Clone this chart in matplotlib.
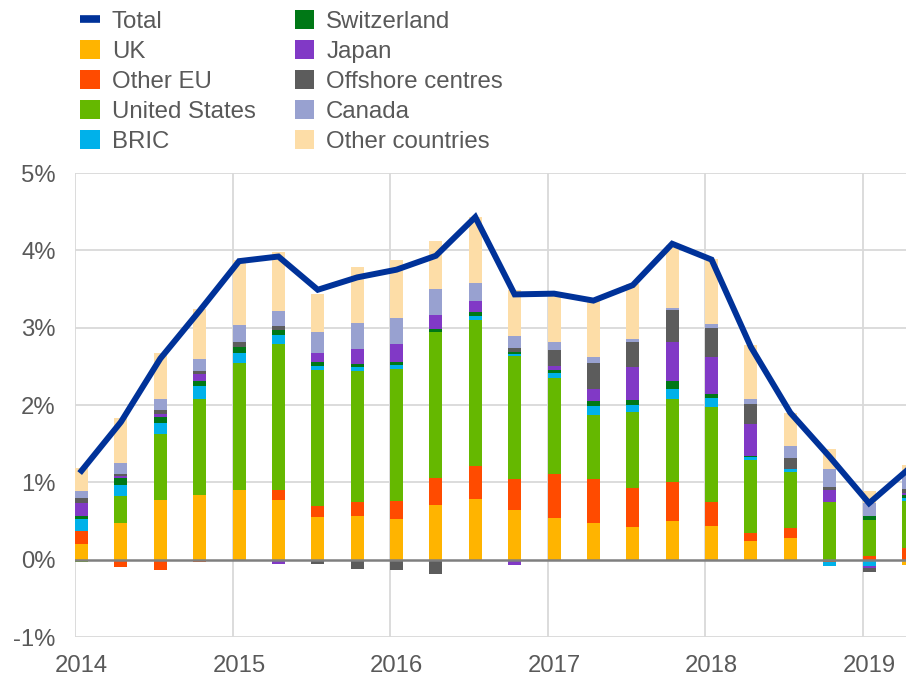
import matplotlib
matplotlib.use("Agg")
import matplotlib.pyplot as plt
import numpy as np
from matplotlib.patches import Patch
from matplotlib.lines import Line2D

plt.rcParams['font.family'] = ['Liberation Sans', 'DejaVu Sans']

# quarters 2014Q1 .. 2019Q2
quarters = [2014 + 0.25 * i for i in range(22)]
year_ticks = [2014, 2015, 2016, 2017, 2018, 2019]
year_labels = ["2014", "2015", "2016", "2017", "2018", "2019"]
y_ticks = [-1, 0, 1, 2, 3, 4, 5]
y_labels = ["-1%", "0%", "1%", "2%", "3%", "4%", "5%"]

uk = [0.20, 0.48, 0.77, 0.835, 0.90, 0.775, 0.55, 0.56, 0.525, 0.705, 0.78, 0.64,
      0.535, 0.48, 0.425, 0.50, 0.44, 0.245, 0.28, -0.02, 0.0, -0.07]
other_eu = [0.17, -0.09, -0.13, -0.03, -0.02, 0.13, 0.14, 0.185, 0.23, 0.35, 0.43, 0.40,
            0.57, 0.565, 0.50, 0.505, 0.31, 0.095, 0.13, -0.01, 0.045, 0.15]
us = [-0.03, 0.34, 0.86, 1.24, 1.645, 1.885, 1.76, 1.69, 1.705, 1.89, 1.885, 1.60,
      1.25, 0.825, 0.98, 1.07, 1.23, 0.95, 0.72, 0.75, 0.465, 0.61]
bric = [0.15, 0.15, 0.14, 0.17, 0.125, 0.115, 0.05, 0.05, 0.06, -0.01, 0.055, 0.02,
        0.065, 0.115, 0.10, 0.13, 0.115, 0.035, 0.045, -0.05, -0.08, 0.04]
switzerland = [0.05, 0.08, 0.07, 0.07, 0.08, 0.065, 0.05, 0.045, 0.035, 0.035, 0.05, 0.025,
               0.03, 0.065, 0.065, 0.10, 0.05, 0.02, 0.0, 0.0, 0.05, 0.035]
japan = [0.16, 0.035, 0.05, 0.08, 0.0, -0.06, 0.12, 0.20, 0.23, 0.19, 0.145, -0.07,
         0.055, 0.155, 0.425, 0.515, 0.47, 0.415, 0.0, 0.155, -0.03, 0.025]
offshore = [0.07, 0.02, 0.04, 0.04, 0.07, 0.05, -0.06, -0.12, -0.13, -0.18, 0.0, 0.055,
            0.205, 0.335, 0.315, 0.41, 0.385, 0.255, 0.14, 0.04, -0.05, 0.05]
canada = [0.09, 0.15, 0.15, 0.155, 0.215, 0.19, 0.27, 0.33, 0.335, 0.33, 0.235, 0.15,
          0.11, 0.075, 0.045, 0.03, 0.05, 0.06, 0.16, 0.23, 0.17, 0.23]
other_countries = [0.29, 0.58, 0.59, 0.65, 0.84, 0.77, 0.49, 0.72, 0.76, 0.615, 0.845, 0.60,
                   0.605, 0.735, 0.71, 0.815, 0.835, 0.70, 0.425, 0.25, 0.155, 0.09]
total = [1.15, 1.78, 2.6, 3.22, 3.86, 3.92, 3.49, 3.65, 3.75, 3.93, 4.43, 3.43,
         3.44, 3.35, 3.55, 4.085, 3.88, 2.75, 1.90, 1.33, 0.73, 1.17]

series = [
    ("UK", uk, "#FFB400"),
    ("Other EU", other_eu, "#FF4B00"),
    ("United States", us, "#65B800"),
    ("BRIC", bric, "#00B1EA"),
    ("Switzerland", switzerland, "#007816"),
    ("Japan", japan, "#8139C6"),
    ("Offshore centres", offshore, "#5C5C5C"),
    ("Canada", canada, "#98A1D0"),
    ("Other countries", other_countries, "#FDDDA7"),
]
total_color = "#003299"
text_color = "#595959"
grid_color = "#D9D9D9"

W, H = 906, 676
fig = plt.figure(figsize=(W / 100, H / 100), dpi=100)
ax = fig.add_axes([75 / W, (H - 637) / H, (W - 75) / W, (637 - 173) / H])

bar_w = 0.083
x = np.array(quarters)
pos_base = np.zeros(len(x))
neg_base = np.zeros(len(x))
for name, vals, col in series:
    v = np.array(vals, dtype=float)
    pos = np.where(v > 0, v, 0)
    neg = np.where(v < 0, v, 0)
    ax.bar(x, pos, width=bar_w, bottom=pos_base, align='edge', color=col,
           linewidth=0, zorder=3)
    ax.bar(x, neg, width=bar_w, bottom=neg_base, align='edge', color=col,
           linewidth=0, zorder=3)
    pos_base += pos
    neg_base += neg

ax.plot(x + bar_w / 2, total, color=total_color, linewidth=4.3, zorder=5,
        solid_joinstyle='miter', clip_on=True)

ax.set_xlim(2014, 2014 + (W - 75) / 157.5)
ax.set_ylim(-1, 5)
for yv in y_ticks:
    if yv != 0:
        ax.axhline(yv, color=grid_color, linewidth=1.3, zorder=1)
for yr in year_ticks:
    ax.axvline(yr, color=grid_color, linewidth=1.3, zorder=1)
ax.axhline(0, color="#7F7F7F", linewidth=1.8, zorder=4)

ax.set_yticks(y_ticks)
ax.set_yticklabels(y_labels)
ax.set_xticks([yr + bar_w / 2 for yr in year_ticks])
ax.set_xticklabels(year_labels)
ax.tick_params(axis='both', length=0, labelsize=17.2, colors=text_color)
ax.tick_params(axis='y', pad=14)
ax.tick_params(axis='x', pad=13)
for s in ax.spines.values():
    s.set_visible(False)

handles = [Line2D([0], [0], color=total_color, linewidth=5.5, solid_capstyle='butt')]
labels = ["Total"]
for name, vals, col in series:
    handles.append(Patch(facecolor=col, edgecolor='none'))
    labels.append(name)

leg = fig.legend(handles, labels, ncol=2, loc='upper left',
                 bbox_to_anchor=(80 / W, 1 - 10 / H), frameon=False,
                 fontsize=17.3, handlelength=0.82, handleheight=0.82,
                 handletextpad=0.5, columnspacing=1.62, labelspacing=0.305,
                 borderpad=0, borderaxespad=0)
for t in leg.get_texts():
    t.set_color(text_color)

fig.savefig("out.png", dpi=100)
